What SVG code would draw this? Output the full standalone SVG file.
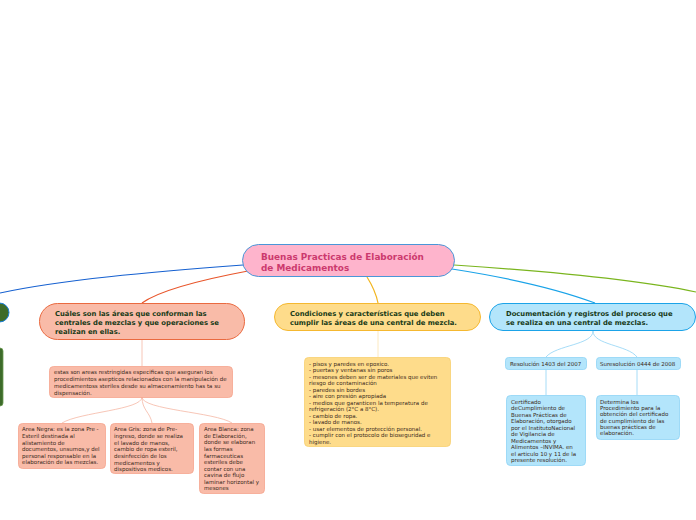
<svg xmlns="http://www.w3.org/2000/svg" width="696" height="520" viewBox="0 0 696 520">
<style>
text{font-family:"DejaVu Sans","Verdana",sans-serif}
.main{font-size:8.9px;font-weight:bold;fill:#cc3a6e}
.t1{font-size:6.8px;font-weight:bold;fill:#173a17}
.s{font-size:5.5px;fill:#3a2a20}
.c{fill:none;stroke-width:1.2}
.cl{fill:none;stroke-width:0.8}
</style>
<rect width="696" height="520" fill="#ffffff"/>
<g id="connectors">
<path class="c" d="M243,265 C150,272 60,280 0,293" stroke="#1560d0"/>
<path class="c" d="M248,271 C200,280 160,290 142,303" stroke="#e8552a"/>
<path class="c" d="M367,277 C372,285 376,293 378,303" stroke="#f2b51e"/>
<path class="c" d="M452,269 C510,278 560,290 595,303" stroke="#1aa3e8"/>
<path class="c" d="M454,265 C560,272 640,280 696,292" stroke="#7ab51e"/>
<path class="cl" d="M142,339 L142,366" stroke="#f5b8a5"/>
<path class="cl" d="M142,397 C142,410 80,412 62,423" stroke="#f5b8a5"/>
<path class="cl" d="M142,397 C142,410 150,412 152,423" stroke="#f5b8a5"/>
<path class="cl" d="M142,397 C142,410 215,412 232,423" stroke="#f5b8a5"/>
<path class="cl" d="M378,331 L378,357" stroke="#fbe3b0"/>
<path class="cl" d="M593,331 C593,345 556,345 546,357" stroke="#8fd3f5"/>
<path class="cl" d="M593,331 C593,345 628,345 637,357" stroke="#8fd3f5"/>
<path class="cl" d="M546,369 L546,395" stroke="#8fd3f5"/>
<path class="cl" d="M637,369 L637,395" stroke="#8fd3f5"/>
</g>
<g id="left-offscreen">
<rect x="-60" y="303" width="69" height="19" rx="9.5" fill="#3d6b2a" stroke="#1a7fd9" stroke-width="1"/>
<rect x="-20" y="348" width="23" height="58" rx="3" fill="#3d6b2a" stroke="#6a9a50" stroke-width="0.8"/>
</g>
<g id="central">
<rect x="242.5" y="244.5" width="212" height="32" rx="16" fill="#feb4cc" stroke="#4a96d8" stroke-width="1"/>
<text class="main" x="261" y="259.5">Buenas Practicas de Elaboración</text>
<text class="main" x="261" y="270.5">de Medicamentos</text>
</g>
<g id="n-areas">
<rect x="39.5" y="303.5" width="205" height="36" rx="18" fill="#f9bba8" stroke="#ea6a40" stroke-width="1"/>
<text class="t1" x="55" y="316">Cuáles son las áreas que conforman las</text>
<text class="t1" x="55" y="325">centrales de mezclas y que operaciones se</text>
<text class="t1" x="55" y="334">realizan en ellas.</text>
</g>
<g id="n-condiciones">
<rect x="274.5" y="303.5" width="206" height="27" rx="13.5" fill="#fedc8b" stroke="#f5b830" stroke-width="1"/>
<text class="t1" x="290" y="316">Condiciones y características que deben</text>
<text class="t1" x="290" y="325">cumplir las áreas de una central de mezcla.</text>
</g>
<g id="n-documentacion">
<rect x="489.5" y="303.5" width="206" height="27" rx="13.5" fill="#b3e5fb" stroke="#1ba3e8" stroke-width="1"/>
<text class="t1" x="506" y="316">Documentación y registros del proceso que</text>
<text class="t1" x="506" y="325">se realiza en una central de mezclas.</text>
</g>
<g id="n-areas-desc">
<rect x="49.5" y="366.5" width="183" height="31" rx="4" fill="#f9bba8" stroke="#f5a58e" stroke-width="0.8"/>
<text class="s" x="54" y="374">estas son areas restringidas especificas que aseguran los</text>
<text class="s" x="54" y="381">procedimientos asepticos relacionados con la manipulación de</text>
<text class="s" x="54" y="388">medicamentoss steriles desde su almacenamiento has ta su</text>
<text class="s" x="54" y="395">dispensación.</text>
</g>
<g id="n-negra">
<rect x="18.5" y="423.5" width="87" height="45" rx="4" fill="#f9bba8" stroke="#f5a58e" stroke-width="0.8"/>
<text class="s" x="22" y="431.3">Area Negra: es la zona Pre -</text>
<text class="s" x="22" y="437.9">Esteril destinada al</text>
<text class="s" x="22" y="444.5">alistamiento de</text>
<text class="s" x="22" y="451.1">documentos, unsumos,y del</text>
<text class="s" x="22" y="457.7">personal responsable en la</text>
<text class="s" x="22" y="464.3">elaboración de las mezclas.</text>
</g>
<g id="n-gris">
<rect x="110.5" y="423.5" width="83" height="50" rx="4" fill="#f9bba8" stroke="#f5a58e" stroke-width="0.8"/>
<text class="s" x="114" y="431.3">Area Gris: zona de Pre-</text>
<text class="s" x="114" y="438">ingreso, donde se realiza</text>
<text class="s" x="114" y="444.6">el lavado de manos,</text>
<text class="s" x="114" y="451.3">cambio de ropa esteril,</text>
<text class="s" x="114" y="458">desinfección de los</text>
<text class="s" x="114" y="464.6">medicamentos y</text>
<text class="s" x="114" y="471.3">dispositivos medicos.</text>
</g>
<g id="n-blanca">
<rect x="199.5" y="423.5" width="65" height="70" rx="4" fill="#f9bba8" stroke="#f5a58e" stroke-width="0.8"/>
<text class="s" x="204" y="431.3">Area Blanca: zona</text>
<text class="s" x="204" y="437.8">de Elaboración,</text>
<text class="s" x="204" y="444.4">donde se elaboran</text>
<text class="s" x="204" y="450.9">las formas</text>
<text class="s" x="204" y="457.5">farmaceuticas</text>
<text class="s" x="204" y="464">esteriles debe</text>
<text class="s" x="204" y="470.6">contar con una</text>
<text class="s" x="204" y="477.1">cavina de flujo</text>
<text class="s" x="204" y="483.7">laminar horizontal y</text>
<text class="s" x="204" y="490.3">mesones</text>
</g>
<g id="n-condiciones-desc">
<rect x="304.5" y="357.5" width="146" height="89" rx="4" fill="#fedc8b" stroke="#f8cf70" stroke-width="0.8"/>
<text class="s" x="309" y="365.7">- pisos y paredes en epoxico.</text>
<text class="s" x="309" y="372.2">- puertas y ventanas sin poros</text>
<text class="s" x="309" y="378.7">- mesones deben ser de materiales que eviten</text>
<text class="s" x="309" y="385.2">riesgo de contaminación</text>
<text class="s" x="309" y="391.7">- paredes sin bordes</text>
<text class="s" x="309" y="398.2">- aire con presión apropiada</text>
<text class="s" x="309" y="404.7">- medios  que garanticen la temperatura  de</text>
<text class="s" x="309" y="411.2">refrigeración  (2°C  a  8°C).</text>
<text class="s" x="309" y="417.7">- cambio de ropa.</text>
<text class="s" x="309" y="424.2">- lavado de manos.</text>
<text class="s" x="309" y="430.7">- usar elementos de protección personal.</text>
<text class="s" x="309" y="437.2">- cumplir con el protocolo de bioseguridad e</text>
<text class="s" x="309" y="443.7">higiene.</text>
</g>
<g id="n-res1403">
<rect x="505.5" y="357.5" width="81" height="12" rx="3" fill="#b3e5fb" stroke="#8fd3f5" stroke-width="0.8"/>
<text class="s" x="510" y="365.5">Resolución 1403 del 2007</text>
</g>
<g id="n-res0444">
<rect x="596.5" y="357.5" width="84" height="12" rx="3" fill="#b3e5fb" stroke="#8fd3f5" stroke-width="0.8"/>
<text class="s" x="600" y="365.5">Suresolución 0444 de 2008</text>
</g>
<g id="n-certificado">
<rect x="506.5" y="395.5" width="79" height="70" rx="4" fill="#b3e5fb" stroke="#8fd3f5" stroke-width="0.8"/>
<text class="s" x="511" y="403.7">Certificado</text>
<text class="s" x="511" y="410.2">deCumplimiento de</text>
<text class="s" x="511" y="416.7">Buenas  Prácticas  de</text>
<text class="s" x="511" y="423.2">Elaboración,  otorgado</text>
<text class="s" x="511" y="429.7">por el InstitutoNacional</text>
<text class="s" x="511" y="436.2">de Vigilancia de</text>
<text class="s" x="511" y="442.7">Medicamentos y</text>
<text class="s" x="511" y="449.2">Alimentos –INVIMA. en</text>
<text class="s" x="511" y="455.7">el articulo 10 y 11 de la</text>
<text class="s" x="511" y="462.2">presente resolución.</text>
</g>
<g id="n-determina">
<rect x="596.5" y="395.5" width="83" height="44" rx="4" fill="#b3e5fb" stroke="#8fd3f5" stroke-width="0.8"/>
<text class="s" x="600" y="403.7">Determina los</text>
<text class="s" x="600" y="410">Procedimiento para la</text>
<text class="s" x="600" y="416.3">obtención del certificado</text>
<text class="s" x="600" y="422.6">de cumplimiento de las</text>
<text class="s" x="600" y="428.9">buenas prácticas de</text>
<text class="s" x="600" y="435.2">elaboración.</text>
</g>
</svg>
